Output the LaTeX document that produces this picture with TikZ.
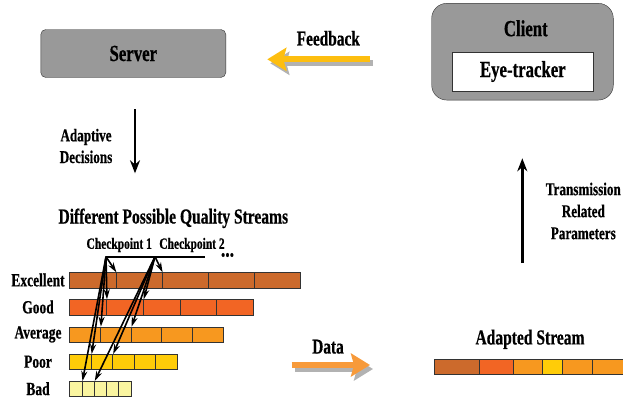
\documentclass[tikz,border=0pt]{standalone}
\usepackage{fontspec}
\setmainfont{Liberation Serif}[FakeStretch=0.73, BoldFeatures={FakeBold=0.6}]
\usetikzlibrary{arrows.meta}

\definecolor{boxgray}{RGB}{153,153,153}
\definecolor{excC}{RGB}{204,106,44}
\definecolor{goodC}{RGB}{242,101,36}
\definecolor{avgC}{RGB}{247,152,31}
\definecolor{poorC}{RGB}{255,204,8}
\definecolor{badC}{RGB}{250,245,160}
\definecolor{feedC}{RGB}{253,190,16}
\definecolor{dataC}{RGB}{247,154,58}

\begin{document}
\begin{tikzpicture}[x=1pt, y=-1pt, >=Stealth, font=\bfseries,
  seg/.style={draw=black!80, line width=0.9pt, anchor=north west, inner sep=0pt, minimum height=15.4pt},
  fat/.style={line width=6pt, -{Stealth[length=19pt, width=23pt, inset=3pt]}},
  cparrow/.style={line width=1.6pt, -{Stealth[length=10pt, width=6pt]}}]
  \useasboundingbox (0,0) rectangle (623,402);

  % Server and client
  \node[draw=black!80, fill=boxgray, rounded corners=5pt, minimum width=185pt, minimum height=48pt,
        font=\bfseries\fontsize{23}{26}\selectfont] (server) at (133.3,53.5) {Server};
  \node[draw=black!80, fill=boxgray, rounded corners=15pt, minimum width=181.6pt, minimum height=96.7pt] (client) at (522.5,51.7) {};
  \node[font=\bfseries\fontsize{23}{26}\selectfont] (clientlbl) at (525.8,28.3) {Client};
  \node[draw=black!80, fill=white, minimum width=141pt, minimum height=38.4pt,
        font=\bfseries\fontsize{23}{26}\selectfont] (tracker) at (522.8,71.5) {Eye-tracker};

  % Feedback (client -> server)
  \coordinate (fb-tail) at (370,59.3);
  \coordinate (fb-tip) at (267.3,59.3);
  \draw[fat, black!30] ([shift={(3,4)}]fb-tail) -- ([shift={(3,4)}]fb-tip);
  \draw[fat, feedC] (fb-tail) -- (fb-tip);
  \node[font=\bfseries\fontsize{21}{24}\selectfont] (feedback) at (328.3,38.3) {Feedback};

  % Decisions going down
  \coordinate (dec-top) at (135,109.3);
  \coordinate (dec-bot) at (135,173.3);
  \draw[line width=2.5pt, -{Stealth[length=13pt, width=10pt]}] (dec-top) -- (dec-bot);
  \node[align=center, font=\bfseries\fontsize{18}{21.7}\selectfont] (decisions) at (86,146) {Adaptive\\Decisions};

  % Parameters going up
  \coordinate (tp-bot) at (522.3,263);
  \coordinate (tp-top) at (522.3,158.3);
  \draw[line width=2.5pt, -{Stealth[length=13pt, width=10pt]}] (tp-bot) -- (tp-top);
  \node[align=center, font=\bfseries\fontsize{18}{22}\selectfont] (params) at (583.3,211) {Transmission\\Related\\Parameters};

  % Quality streams
  \node[font=\bfseries\fontsize{21.3}{24}\selectfont] (streams) at (173.3,218.3) {Different Possible Quality Streams};
  \foreach \name/\w/\col/\y/\lbl in {exc/46.2/excC/272.3/Excellent, good/36.76/goodC/299.3/Good,
      avg/30.68/avgC/326.7/Average, poor/21.48/poorC/354/Poor, bad/12.28/badC/381/Bad} {
    \foreach \i in {1,...,5}
      \node[seg, fill=\col, minimum width=\w pt] (\name-\i) at ({69.3+(\i-1)*\w},\y) {};
    \node[font=\bfseries\fontsize{18.5}{20}\selectfont] (\name-lbl) at (38,\y+7.7) {\lbl};
  }

  % Checkpoints
  \node[font=\bfseries\fontsize{15.7}{18}\selectfont] (cp1-lbl) at (119.2,245) {Checkpoint 1};
  \node[font=\bfseries\fontsize{15.7}{18}\selectfont] (cp2-lbl) at (192,245) {Checkpoint 2};
  \node[font=\bfseries\fontsize{24}{24}\selectfont, inner sep=0pt] (more) at (227.5,255) {...};
  \coordinate (cp1) at (106,256.7);
  \coordinate (cp2) at (155,256.7);
  \coordinate (cp-end) at (205,256.7);
  \draw[line width=2pt] (cp1) -- (cp-end);
  \foreach \q in {exc,good,avg,poor,bad} {
    \draw[cparrow] (cp1) -- (\q-1.north east);
    \draw[cparrow] (cp2) -- (\q-2.north east);
  }

  % Data to adapted stream
  \coordinate (data-tail) at (291.7,365);
  \coordinate (data-tip) at (370,365);
  \draw[fat, black!30] ([shift={(3,4)}]data-tail) -- ([shift={(3,4)}]data-tip);
  \draw[fat, dataC] (data-tail) -- (data-tip);
  \node[font=\bfseries\fontsize{21}{24}\selectfont] (data) at (328,346.7) {Data};

  \node[font=\bfseries\fontsize{21.3}{24}\selectfont] (adapted) at (530,339.3) {Adapted Stream};
  \foreach \i/\x/\w/\col in {1/434.3/45/excC, 2/479.3/33.4/goodC, 3/512.7/29/avgC,
      4/541.7/20/poorC, 5/561.7/30.6/avgC, 6/592.3/32/avgC}
    \node[seg, fill=\col, minimum width=\w pt, minimum height=15pt] (ad-\i) at (\x,359.3) {};
\end{tikzpicture}
\end{document}
